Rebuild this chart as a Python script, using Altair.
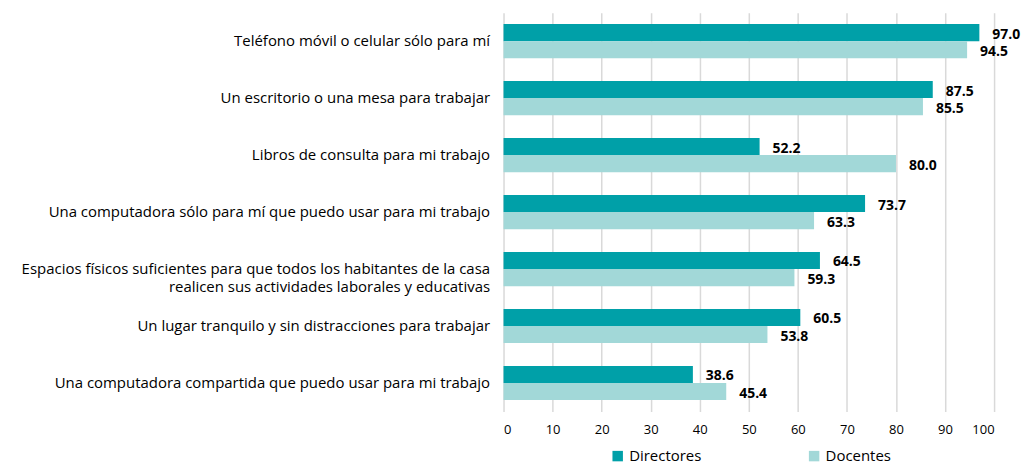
import altair as alt
import pandas as pd

categories = [
    "Teléfono móvil o celular sólo para mí",
    "Un escritorio o una mesa para trabajar",
    "Libros de consulta para mi trabajo",
    "Una computadora sólo para mí que puedo usar para mi trabajo",
    "Espacios físicos suficientes para que todos los habitantes de la casa|realicen sus actividades laborales y educativas",
    "Un lugar tranquilo y sin distracciones para trabajar",
    "Una computadora compartida que puedo usar para mi trabajo",
]
directores = [97.0, 87.5, 52.2, 73.7, 64.5, 60.5, 38.6]
docentes = [94.5, 85.5, 80.0, 63.3, 59.3, 53.8, 45.4]
series = ["Directores", "Docentes"]
colors = ["#00A0A8", "#A2D8D8"]

rows = []
for c, d, t in zip(categories, directores, docentes):
    rows.append({"cat": c, "serie": "Directores", "val": d})
    rows.append({"cat": c, "serie": "Docentes", "val": t})
df = pd.DataFrame(rows)

FONT = "Open Sans"

y_enc = alt.Y(
    "cat:N",
    sort=categories,
    title=None,
    scale=alt.Scale(paddingInner=0.4, paddingOuter=0.2),
    axis=alt.Axis(
        labelExpr="split(datum.label, '|')",
        labelFontSize=15,
        labelFont=FONT,
        labelColor="#000000",
        labelPadding=14,
        labelLineHeight=18,
        ticks=False,
        domain=False,
        labelLimit=600,
    ),
)
yoff = alt.YOffset("serie:N", sort=series, scale=alt.Scale(paddingInner=0, paddingOuter=0))

base = alt.Chart(df).encode(y=y_enc, yOffset=yoff)

bars = base.mark_bar().encode(
    x=alt.X(
        "val:Q",
        title=None,
        scale=alt.Scale(domain=[0, 100]),
        axis=alt.Axis(
            values=list(range(0, 101, 10)),
            labelFontSize=13,
            labelFont=FONT,
            labelColor="#000000",
            labelPadding=12,
            ticks=False,
            domain=False,
            grid=True,
            gridColor="#D9D9D9",
            gridWidth=1.5,
        ),
    ),
    color=alt.Color(
        "serie:N",
        sort=series,
        scale=alt.Scale(domain=series, range=colors),
        legend=alt.Legend(
            title=None,
            orient="none",
            legendX=107,
            legendY=437,
            direction="horizontal",
            symbolType="square",
            symbolSize=110,
            symbolStrokeWidth=0,
            labelFontSize=15,
            labelFont=FONT,
            labelColor="#000000",
            columnPadding=105,
        ),
    ),
)

labels = base.mark_text(
    align="left", baseline="middle", dx=13, dy=2, fontWeight="bold", fontSize=14, font=FONT, color="#000000"
).encode(x="val:Q", text=alt.Text("val:Q", format=".1f"))

chart = (
    alt.layer(bars, labels)
    .properties(width=492, height=400, padding={"top": 4, "left": 12, "right": 0, "bottom": 0})
    .configure_view(stroke=None)
)

chart.save("out.html", embed_options={"renderer": "svg", "actions": False})
